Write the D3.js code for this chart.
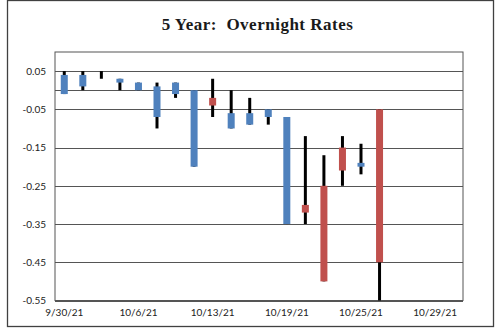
<!DOCTYPE html>
<html>
<head>
<meta charset="utf-8">
<script src="https://cdn.jsdelivr.net/npm/d3@7"></script>
<style>
  html, body { margin: 0; padding: 0; background: #fff; }
  svg { display: block; }
</style>
</head>
<body>
<div id="chart"></div>
<script>
// ---- data ----
const dates = ["9/30/21","10/1/21","10/4/21","10/5/21","10/6/21","10/7/21","10/8/21","10/12/21","10/13/21","10/14/21","10/15/21","10/18/21","10/19/21","10/20/21","10/21/21","10/22/21","10/25/21","10/26/21","10/27/21","10/28/21","10/29/21","11/1/21"];
const openVals  = [0.04, 0.04, 0.05, 0.03, 0.02, 0.01, 0.02, 0.00, -0.04, -0.06, -0.06, -0.05, -0.07, -0.32, -0.50, -0.21, -0.19, -0.45];
const highVals  = [0.05, 0.05, 0.05, 0.03, 0.02, 0.02, 0.02, 0.00, 0.03, 0.00, -0.02, -0.05, -0.07, -0.12, -0.17, -0.12, -0.14, -0.05];
const lowVals   = [-0.01, 0.00, 0.03, 0.00, 0.00, -0.10, -0.02, -0.20, -0.07, -0.10, -0.09, -0.09, -0.35, -0.35, -0.50, -0.25, -0.22, -0.55];
const closeVals = [-0.01, 0.01, 0.05, 0.02, 0.00, -0.07, -0.01, -0.20, -0.02, -0.10, -0.09, -0.07, -0.35, -0.30, -0.25, -0.15, -0.20, -0.05];
const yTicks = [0.05, -0.05, -0.15, -0.25, -0.35, -0.45, -0.55];
const xLabelEvery = 4;
const title = "5 Year:  Overnight Rates";

// ---- layout ----
const W = 500, H = 329;
const plot = { left: 55, right: 463, top: 52, bottom: 300.5 };

const svg = d3.select("#chart").append("svg").attr("width", W).attr("height", H);

// outer chart border
svg.append("rect").attr("x", 7.5).attr("y", 0.5).attr("width", 486).attr("height", 326)
  .attr("fill", "#fff").attr("stroke", "#404040").attr("stroke-width", 1.3);

svg.append("text").attr("x", 257.5).attr("y", 30).attr("text-anchor", "middle")
  .style("white-space", "pre")
  .attr("font-family", "'Liberation Serif', 'DejaVu Serif', serif").attr("font-weight", "bold")
  .attr("font-size", 17).attr("letter-spacing", 0.5).attr("fill", "#1a1a1a").text(title);

const x = d3.scaleBand().domain(dates).range([plot.left, plot.right]).paddingInner(0).paddingOuter(0);
const y = d3.scaleLinear().domain([-0.55, 0.10]).range([plot.bottom, plot.top]);

// gridlines
const g = svg.append("g");
g.selectAll("line.grid").data(yTicks).join("line").attr("class", "grid")
  .attr("x1", plot.left).attr("x2", plot.right)
  .attr("y1", d => Math.round(y(d)) + 0.5).attr("y2", d => Math.round(y(d)) + 0.5)
  .attr("stroke", "#555").attr("stroke-width", 1);
// horizontal axis line at zero
g.append("line").attr("x1", plot.left).attr("x2", plot.right)
  .attr("y1", Math.round(y(0)) + 0.5).attr("y2", Math.round(y(0)) + 0.5)
  .attr("stroke", "#555").attr("stroke-width", 1);
// plot border
g.append("rect").attr("x", plot.left).attr("y", plot.top)
  .attr("width", plot.right - plot.left).attr("height", plot.bottom - plot.top)
  .attr("fill", "none").attr("stroke", "#555").attr("stroke-width", 1);

// axes
const fmt = v => v.toFixed(2);
const yAxis = d3.axisLeft(y).tickValues(yTicks).tickFormat(fmt).tickSize(0).tickPadding(9);
svg.append("g").attr("transform", `translate(${plot.left},0)`).call(yAxis)
  .call(s => s.select(".domain").remove())
  .selectAll("text").attr("font-family", "Lato, 'Open Sans', sans-serif").attr("font-size", 10).attr("fill", "#222");

const xAxis = d3.axisBottom(x).tickValues(dates.filter((d, i) => i % xLabelEvery === 0)).tickSize(0).tickPadding(8);
svg.append("g").attr("transform", `translate(0,${plot.bottom})`).call(xAxis)
  .call(s => s.select(".domain").remove())
  .selectAll("text").attr("font-family", "Lato, 'Open Sans', sans-serif").attr("font-size", 10).attr("fill", "#222");

// candles
const candles = openVals.map((o, i) => ({ date: dates[i], open: o, high: highVals[i], low: lowVals[i], close: closeVals[i] }));
const cx = d => x(d.date) + x.bandwidth() / 2;
const cg = svg.append("g");
cg.selectAll("line.wick").data(candles).join("line").attr("class", "wick")
  .attr("x1", cx).attr("x2", cx)
  .attr("y1", d => y(d.high)).attr("y2", d => y(d.low))
  .attr("stroke", "#000").attr("stroke-width", 3);
const bodyW = 7;
cg.selectAll("rect.body").data(candles).join("rect").attr("class", "body")
  .attr("x", d => cx(d) - bodyW / 2).attr("width", bodyW)
  .attr("y", d => y(Math.max(d.open, d.close)))
  .attr("height", d => Math.abs(y(d.open) - y(d.close)))
  .attr("fill", d => d.close < d.open ? "#4F81BD" : "#C0504D");
</script>
</body>
</html>
